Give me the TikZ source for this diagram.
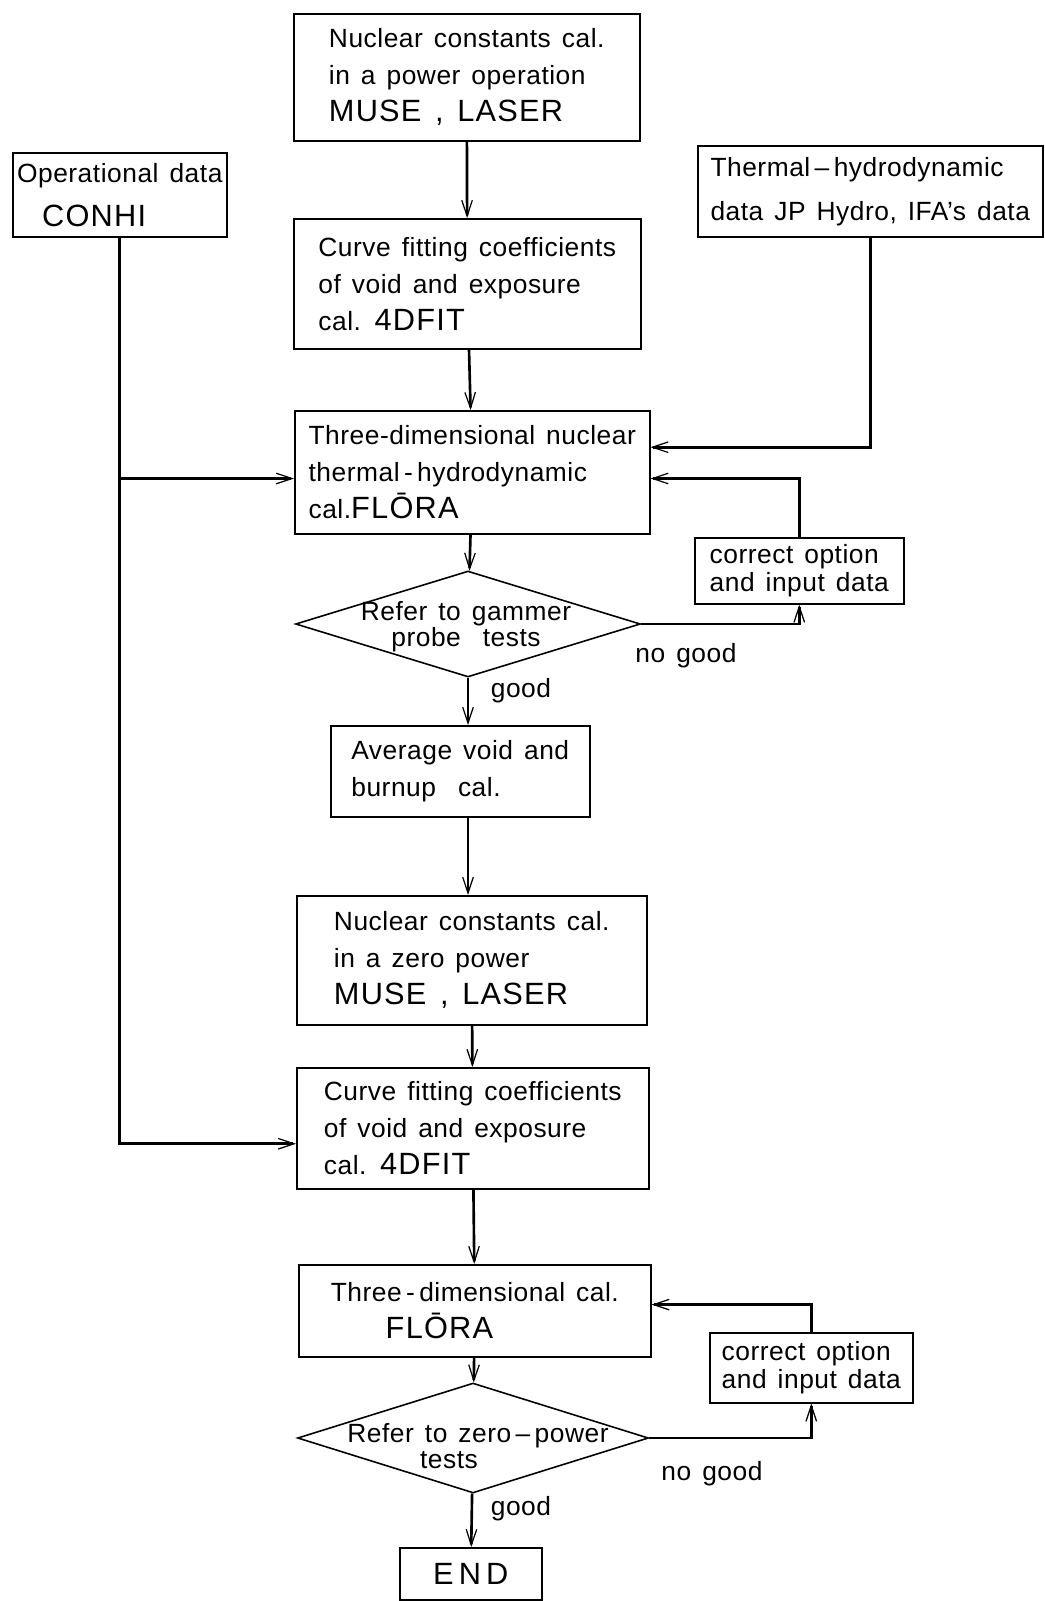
\documentclass[tikz,border=0pt]{standalone}
\usepackage{fontspec}
\setmainfont{Liberation Sans}[LetterSpace=2,WordSpace=1.4]
\usetikzlibrary{arrows.meta,shapes.geometric}
\newcommand{\flowfont}{\fontsize{15}{21}\selectfont}
\newcommand{\boxfont}{\fontsize{15}{15.5}\selectfont\lineskiplimit-20pt\relax}
\newcommand{\diafont}{\fontsize{15}{14.6}\selectfont\lineskiplimit-20pt\relax}
\newcommand{\code}[1]{{\fontsize{17.5}{21}\selectfont\addfontfeature{LetterSpace=4}#1}}

\begin{document}
\begin{tikzpicture}[x=0.02cm, y=-0.02cm,
		block/.style={draw, line width=0.9pt, anchor=north west, align=left, inner sep=0pt, font=\flowfont},
		tight/.style={font=\boxfont},
		tighter/.style={font=\diafont},
		wide/.style={font=\fontsize{15}{25}\selectfont},
		decision/.style={draw, diamond, line width=0.9pt, inner sep=0pt},
		conn/.style={line width=1.5pt},
		>={Straight Barb[length=9pt,width=6pt,line width=0.7pt]}]
		\useasboundingbox (0,0) rectangle (1044,1601);
		% boxes of the main column
		\node[block, minimum width=6.92cm, minimum height=2.54cm] (nucpow) at (293,13)
			{Nuclear constants cal.\\ in a power operation\\ \code{MUSE , LASER}};
		\node[block, minimum width=6.94cm, minimum height=2.6cm] (fit1) at (293,218)
			{Curve fitting coefficients\\ of void and exposure\\ cal. \code{4DFIT}};
		\node[block, minimum width=7.1cm, minimum height=2.46cm] (flora1) at (294,410)
			{Three-dimensional nuclear\\ thermal\,-\,hydrodynamic\\ cal.\code{FL\=ORA}};
		\node[decision, minimum width=6.9cm, minimum height=2.12cm] (d1) at (468,624) {};
		\node[tighter, align=center] (d1txt) at (466,627) {Refer to gammer\\ probe\ \ tests};
		\node[block, minimum width=5.18cm, minimum height=1.82cm] (avg) at (330,725)
			{Average void and\\ burnup\ \ cal.};
		\node[block, minimum width=7.0cm, minimum height=2.58cm] (nuczero) at (296,895)
			{Nuclear constants cal.\\ in a zero power\\ \code{MUSE , LASER}};
		\node[block, minimum width=7.04cm, minimum height=2.42cm] (fit2) at (296,1067)
			{Curve fitting coefficients\\ of void and exposure\\ cal. \code{4DFIT}};
		\node[block, minimum width=7.04cm, minimum height=1.84cm] (flora2) at (298,1264)
			{Three\,-\,dimensional cal.\\ \hspace*{1.1cm}\code{FL\=ORA}};
		\node[decision, minimum width=7.02cm, minimum height=2.2cm] (d2) at (473,1438) {};
		\node[tighter, align=center] (d2txt) at (478,1446) {Refer to zero\,--\,power\\ tests\hspace*{2.2em}};
		\node[block, align=center, minimum width=2.84cm, minimum height=1.04cm] (end) at (399,1547)
			{\code{E\,N\,D}};
		% side inputs
		\node[block, wide, minimum width=4.28cm, minimum height=1.68cm] (opdata) at (12,152)
			{Operational data\\ \hspace*{0.5cm}\code{CONHI}};
		\node[block, wide, minimum width=6.9cm, minimum height=1.82cm] (thermo) at (697,145)
			{Thermal\,--\,hydrodynamic\\ data JP Hydro, IFA's data};
		\node[block, tight, minimum width=4.18cm, minimum height=1.32cm] (corr1) at (694,537)
			{correct option\\ and input data};
		\node[block, tight, minimum width=4.06cm, minimum height=1.4cm] (corr2) at (709,1332)
			{correct option\\ and input data};
		% branch labels
		\node[font=\flowfont] (good1) at (521,691) {good};
		\node[font=\flowfont] (nogood1) at (686,656) {no good};
		\node[font=\flowfont] (good2) at (521,1509) {good};
		\node[font=\flowfont] (nogood2) at (712,1474) {no good};

		\path[->, conn]
		(nucpow) edge (fit1)
		(fit1) edge (flora1)
		(flora1) edge (d1)
		(d1) edge (d1 |- avg.north)
		(avg.south -| d1) edge (nuczero.north -| d1)
		(nuczero) edge (fit2)
		(fit2) edge (flora2)
		(flora2) edge (d2)
		(d2) edge (end)
		;
		\draw[->, conn] (opdata.south) |- (fit2.185);
		\draw[->, conn] (opdata.south |- flora1.182) -- (flora1.182);
		\draw[->, conn] (thermo.south) |- (flora1.8);
		\draw[->, conn] (d1.east) -| (corr1.south);
		\draw[->, conn] (corr1.north) |- (flora1.358);
		\draw[->, conn] (d2.east) -| (corr2.south);
		\draw[->, conn] (corr2.north) |- (flora2.2);
	\end{tikzpicture}
\end{document}
